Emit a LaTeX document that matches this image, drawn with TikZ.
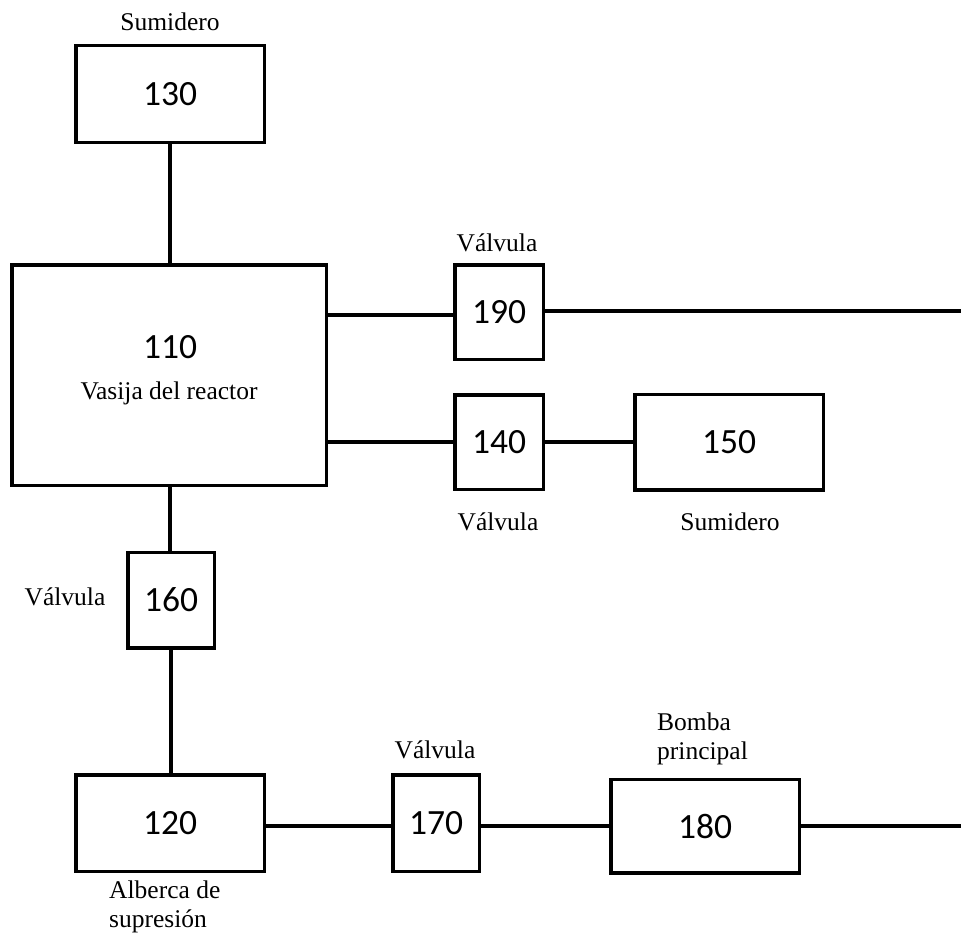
\documentclass[tikz,border=0pt]{standalone}
\usepackage{fontspec}
\setmainfont{Liberation Serif}
\newfontfamily\numfont{Carlito}
\begin{document}
\begin{tikzpicture}[x=1pt,y=-1pt,
  pipe/.style={line width=3.5pt},
  numtext/.style={font=\numfont\fontsize{35.5}{42}\selectfont},
  unit/.style={draw, line width=3.5pt, rectangle, inner sep=0pt, numtext},
  tag/.style={font=\fontsize{25.5}{29.5}\selectfont, inner sep=0pt, align=left}]
\useasboundingbox (0,0) rectangle (961,934);

% equipment blocks
\node[unit, minimum width=188.5pt, minimum height=96.5pt] (b130) at (170,94) {130};
\node[unit, minimum width=314.5pt, minimum height=220.5pt] (b110) at (169,375) {};
\node[unit, minimum width=88.5pt, minimum height=94.5pt] (b190) at (499,312) {190};
\node[unit, minimum width=88.5pt, minimum height=94.5pt] (b140) at (499,442) {140};
\node[unit, minimum width=188.5pt, minimum height=95.5pt] (b150) at (729,442) {150};
\node[unit, minimum width=86.5pt, minimum height=95.5pt] (b160) at (171,600) {160};
\node[unit, minimum width=188.5pt, minimum height=96.5pt] (b120) at (170,823) {120};
\node[unit, minimum width=86.5pt, minimum height=96.5pt] (b170) at (436,823) {170};
\node[unit, minimum width=188.5pt, minimum height=93.5pt] (b180) at (705,826) {180};

% text inside the reactor vessel
\node[numtext, inner sep=0pt] (n110) at (170,347) {110};
\node[tag] (t110) at (169,393) {Vasija del reactor};

% captions
\node[tag] (t130) at (170,22) {Sumidero};
\node[tag] (t190) at (497,243) {Válvula};
\node[tag] (t140) at (498,522) {Válvula};
\node[tag] (t150) at (730,522) {Sumidero};
\node[tag] (t160) at (65,597) {Válvula};
\node[tag, anchor=west] (t120) at (109,907) {Alberca de\\supresión};
\node[tag, anchor=west] (t180) at (657,739) {Bomba\\principal};
\node[tag] (t170) at (435,750) {Válvula};

% free ends of the outgoing lines
\coordinate (out190) at (961,311);
\coordinate (out180) at (961,826);

% piping
\draw[pipe] (b130.south) -- (b110.north -| b130.south);
\draw[pipe] (b190.west |- 0,315) -- (b110.east |- 0,315);
\draw[pipe] (b190.east |- out190) -- (out190);
\draw[pipe] (b140.west) -- (b110.east |- b140.west);
\draw[pipe] (b140.east) -- (b150.west);
\draw[pipe] (b110.south -| 170,0) -- (b160.north -| 170,0);
\draw[pipe] (b160.south) -- (b120.north -| b160.south);
\draw[pipe] (b120.east |- b180.west) -- (b170.west |- b180.west);
\draw[pipe] (b170.east |- b180.west) -- (b180.west);
\draw[pipe] (b180.east) -- (out180);
\end{tikzpicture}
\end{document}
